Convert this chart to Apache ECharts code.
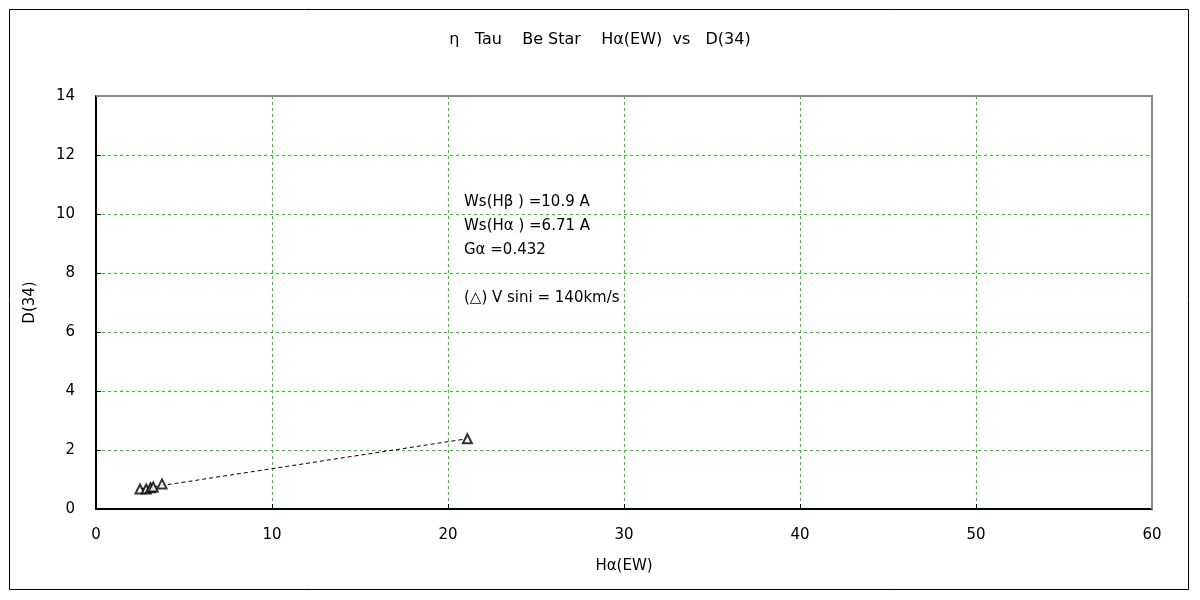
<!DOCTYPE html>
<html>
<head>
<meta charset="utf-8">
<script src="https://cdn.jsdelivr.net/npm/echarts@6/dist/echarts.min.js"></script>
<style>
html,body{margin:0;padding:0;background:#fff;}
#c{width:1200px;height:600px;}
</style>
</head>
<body>
<div id="c"></div>
<script>
// Data
const haEW = [2.5, 2.85, 3.1, 3.25, 3.75, 21.1];
const d34  = [0.68, 0.68, 0.72, 0.75, 0.85, 2.38];
const xTicks = [0, 10, 20, 30, 40, 50, 60];
const yTicks = [0, 2, 4, 6, 8, 10, 12, 14];
const notes = ['Ws(Hβ ) =10.9 A', 'Ws(Hα ) =6.71 A', 'Gα =0.432', '', '(△) V sini = 140km/s'];

// linear trendline (least squares) from the data
const n = haEW.length;
const mx = haEW.reduce((a,b)=>a+b,0)/n;
const my = d34.reduce((a,b)=>a+b,0)/n;
let sxy = 0, sxx = 0;
for (let i=0;i<n;i++){ sxy += (haEW[i]-mx)*(d34[i]-my); sxx += (haEW[i]-mx)*(haEW[i]-mx); }
const slope = sxy/sxx, icpt = my - slope*mx;
const xmin = Math.min(...haEW), xmax = Math.max(...haEW);
const trend = [[xmin, icpt+slope*xmin],[xmax, icpt+slope*xmax]];

const FONT = '"DejaVu Sans", sans-serif';
const GL = {left: 96, right: 48, top: 96, bottom: 91};
const chart = echarts.init(document.getElementById('c'));
chart.setOption({
  animation: false,
  backgroundColor: '#fff',
  textStyle: {fontFamily: FONT},
  title: {
    text: 'η   Tau    Be Star    Hα(EW)  vs   D(34)',
    left: 'center', top: 27,
    textStyle: {fontSize: 16, fontWeight: 'normal', color: '#000', fontFamily: FONT}
  },
  grid: {left: GL.left, right: GL.right, top: GL.top, bottom: GL.bottom, show: false},
  xAxis: {
    type: 'value', min: xTicks[0], max: xTicks[xTicks.length-1], interval: 10,
    name: 'Hα(EW)', nameLocation: 'middle', nameGap: 50,
    nameTextStyle: {fontSize: 15, color: '#000', fontFamily: FONT},
    axisLine: {lineStyle: {color: '#000', width: 2}},
    axisTick: {show: true, inside: true, length: 5, lineStyle: {color: '#000'}},
    axisLabel: {fontSize: 15, color: '#000', margin: 19, fontFamily: FONT},
    splitLine: {show: true, lineStyle: {color: '#00ee00', type: [3,3], width: 1}}
  },
  yAxis: {
    type: 'value', min: yTicks[0], max: yTicks[yTicks.length-1], interval: 2,
    name: 'D(34)', nameLocation: 'middle', nameGap: 58, nameRotate: 90,
    nameTextStyle: {fontSize: 15, color: '#000', fontFamily: FONT},
    axisLine: {show: true, lineStyle: {color: '#000', width: 2}},
    axisTick: {show: true, inside: true, length: 5, lineStyle: {color: '#000'}},
    axisLabel: {fontSize: 15, color: '#000', margin: 21, fontFamily: FONT},
    splitLine: {show: true, lineStyle: {color: '#00ee00', type: [3,3], width: 1}}
  },
  graphic: [
    {type: 'rect', shape: {x: 9.5, y: 9.5, width: 1179, height: 580},
     style: {fill: 'none', stroke: '#000', lineWidth: 1}, z: 100},
    {type: 'polyline', z: 100,
     shape: {points: [[GL.left, GL.top], [1200-GL.right, GL.top], [1200-GL.right, 600-GL.bottom]]},
     style: {fill: 'none', stroke: '#888', lineWidth: 2}},
    {type: 'text', left: 464, top: 190, z: 100,
     style: {text: notes.join('\n'), font: '15px ' + FONT, fill: '#000', lineHeight: 24}}
  ],
  series: [{
    type: 'line', data: trend, showSymbol: false, symbol: 'none', z: 3,
    lineStyle: {color: '#000', width: 1, type: [4,3]}
  },{
    type: 'scatter', data: haEW.map((x,i)=>[x, d34[i]]),
    symbol: 'triangle', symbolSize: 9, z: 5,
    itemStyle: {color: '#fff', borderColor: '#000', borderWidth: 2}
  }]
});
</script>
</body>
</html>
